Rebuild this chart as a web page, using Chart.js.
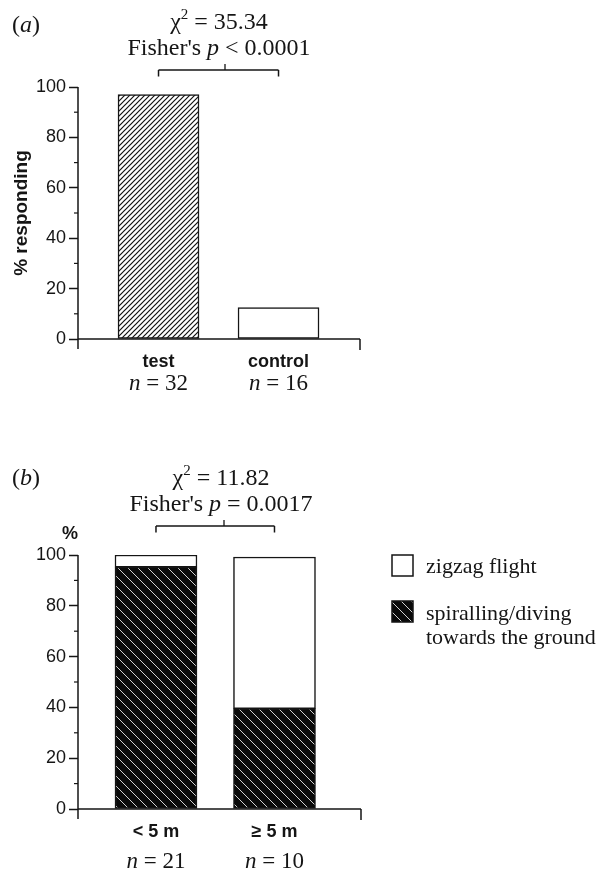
<!DOCTYPE html>
<html><head><meta charset="utf-8">
<script src="https://cdn.jsdelivr.net/npm/chart.js@4.4.1/dist/chart.umd.min.js"></script>
<style>
html,body{margin:0;padding:0;background:#fff;width:598px;height:871px;overflow:hidden}
canvas{position:absolute;left:0}
#ca{top:0}
#cb{top:420px}
</style></head><body>
<canvas id="ca" width="598" height="420"></canvas>
<canvas id="cb" width="598" height="451"></canvas>
<script>
// ---------- data: panel (a) ----------
const categoriesA = ['test', 'control'];
const respondingA = [97, 12.5];
const sampleSizeA = [32, 16];
const chiA = '35.34';
const fisherA = ['<', '0.0001'];
// ---------- data: panel (b) ----------
const categoriesB = ['< 5 m', '\u2265 5 m'];
const spirallingB = [95.2, 39.5];
const zigzagB = [4.8, 59.7];
const sampleSizeB = [21, 10];
const chiB = '11.82';
const fisherB = ['=', '0.0017'];
const legendZigzag = ['zigzag flight'];
const legendSpiral = ['spiralling/diving', 'towards the ground'];
// ---------- shared ----------
const yMajorStep = 20;
const yMinorValues = [10, 30, 50, 70, 90];

const SANS = '"Liberation Sans", Arial, Helvetica, sans-serif';
const SERIF = '"Liberation Serif", "Times New Roman", serif';
const INK = '#151515';

function hatchA(ctx) {
  const c = document.createElement('canvas'); c.width = c.height = 5;
  const g = c.getContext('2d');
  g.fillStyle = '#fff'; g.fillRect(0, 0, 5, 5);
  g.strokeStyle = '#111'; g.lineWidth = 1.2; g.beginPath();
  g.moveTo(0, 5); g.lineTo(5, 0); g.moveTo(-1, 1); g.lineTo(1, -1); g.moveTo(4, 6); g.lineTo(6, 4);
  g.stroke();
  return ctx.createPattern(c, 'repeat');
}
function hatchB(ctx) {
  const c = document.createElement('canvas'); c.width = c.height = 10;
  const g = c.getContext('2d');
  g.fillStyle = '#0a0a0a'; g.fillRect(0, 0, 10, 10);
  g.strokeStyle = '#d0d0d0'; g.lineWidth = 1; g.beginPath();
  g.moveTo(0, 0); g.lineTo(10, 10); g.moveTo(-1, 9); g.lineTo(1, 11); g.moveTo(9, -1); g.lineTo(11, 1);
  g.stroke();
  return ctx.createPattern(c, 'repeat');
}

function drawRuns(ctx, runs, x, baseline, align) {
  let w = 0;
  runs.forEach(r => { ctx.font = r.font; r.w = ctx.measureText(r.t).width; w += r.w; });
  let cx = align === 'center' ? x - w / 2 : (align === 'right' ? x - w : x);
  ctx.textAlign = 'left'; ctx.textBaseline = 'alphabetic'; ctx.fillStyle = INK;
  runs.forEach(r => { ctx.font = r.font; ctx.fillText(r.t, cx, baseline + (r.dy || 0)); cx += r.w; });
}
const R = s => s + 'px ' + SERIF;
const I = s => 'italic ' + s + 'px ' + SERIF;

function line(ctx, x1, y1, x2, y2, w) {
  ctx.beginPath(); ctx.moveTo(x1, y1); ctx.lineTo(x2, y2);
  ctx.lineWidth = w || 1.5; ctx.strokeStyle = INK; ctx.stroke();
}

function annotPlugin(cfg) {
  return {
    id: 'annot' + cfg.letter,
    afterDraw(chart) {
      const ctx = chart.ctx, a = chart.chartArea;
      const xs = chart.scales.x, ys = chart.scales.y;
      ctx.save();
      // axes
      line(ctx, a.left, ys.getPixelForValue(100), a.left, a.bottom + cfg.axisExt, 1.5);
      line(ctx, a.left, a.bottom, a.right, a.bottom, 1.5);
      line(ctx, a.right, a.bottom, a.right, a.bottom + cfg.axisExt + 1, 1.5);
      yMinorValues.forEach(v => {
        const y = ys.getPixelForValue(v);
        line(ctx, a.left - 4, y, a.left, y, 1.2);
      });
      // panel letter
      drawRuns(ctx, [{t: '(', font: R(24)}, {t: cfg.letter, font: I(24)}, {t: ')', font: R(24)}], 12, cfg.letterBase, 'left');
      // statistics
      drawRuns(ctx, [{t: '\u03c7', font: R(24)}, {t: '2', font: R(15), dy: -10}, {t: ' = ' + cfg.chi, font: R(24)}], cfg.textX, cfg.chiBase, 'center');
      drawRuns(ctx, [{t: "Fisher's ", font: R(24)}, {t: 'p', font: I(24)}, {t: ' ' + cfg.fisher[0] + ' ' + cfg.fisher[1], font: R(24)}], cfg.textX, cfg.fisherBase, 'center');
      // bracket
      const b1 = xs.getPixelForValue(1), b2 = xs.getPixelForValue(2);
      line(ctx, b1, cfg.brY, b2, cfg.brY, 1.5);
      line(ctx, b1, cfg.brY, b1, cfg.brY + 6.5, 1.5);
      line(ctx, b2, cfg.brY, b2, cfg.brY + 6.5, 1.5);
      line(ctx, cfg.brTick, cfg.brY, cfg.brTick, cfg.brY - 6, 1.3);
      // sample sizes
      cfg.n.forEach((n, i) => {
        drawRuns(ctx, [{t: 'n', font: I(23)}, {t: ' = ' + n, font: R(23)}], xs.getPixelForValue(i + 1), cfg.nBase, 'center');
      });
      if (cfg.extra) cfg.extra(ctx, chart);
      ctx.restore();
    }
  };
}

function yScale(extra) {
  return Object.assign({
    type: 'linear', min: 0, max: 100,
    ticks: {
      stepSize: 10, padding: 3, color: INK,
      font: {family: SANS, size: 18},
      callback: v => (v % yMajorStep === 0 ? String(v) : '')
    },
    grid: {
      drawOnChartArea: false, tickLength: 9, tickWidth: 1.5,
      tickColor: c => (c.tick && c.tick.value % yMajorStep === 0 ? INK : 'rgba(0,0,0,0)')
    },
    border: {display: false},
    afterFit: s => { s.width = 78; }
  }, extra || {});
}
function xScale(cats, min, max, height, stacked) {
  return {
    type: 'linear', min: min, max: max, stacked: stacked, offset: false, bounds: 'data', grace: 0,
    afterBuildTicks: s => { s.ticks = cats.map((c, i) => ({value: i + 1})); },
    ticks: {autoSkip: false, padding: 12, color: INK, font: {family: SANS, size: 18, weight: 'bold'},
      callback: v => cats[v - 1]},
    grid: {display: false, drawTicks: false, offset: false},
    border: {display: false},
    afterFit: s => { s.height = height; }
  };
}

const ctxA = document.getElementById('ca').getContext('2d');
const ctxB = document.getElementById('cb').getContext('2d');
const patA = hatchA(ctxA);
const patB = hatchB(ctxB);

new Chart(ctxA, {
  type: 'bar',
  data: {
    datasets: [{
      label: '% responding',
      data: categoriesA.map((c, i) => ({x: i + 1, y: respondingA[i]})),
      backgroundColor: [patA, '#ffffff'],
      borderColor: INK, borderWidth: 1.5, borderSkipped: false,
      barThickness: 81
    }]
  },
  options: {
    responsive: false, animation: false, devicePixelRatio: 1,
    layout: {padding: {top: 87, right: 238, left: 0, bottom: 0}},
    plugins: {legend: {display: false}, tooltip: {enabled: false}},
    scales: {
      x: xScale(categoriesA, 0.329, 2.679, 81, false),
      y: yScale({title: {display: true, text: '% responding', color: INK,
        font: {family: SANS, size: 19, weight: 'bold'}, padding: {top: 10, bottom: 0}}})
    }
  },
  plugins: [annotPlugin({letter: 'a', letterBase: 32, chi: chiA, fisher: fisherA, textX: 219,
    chiBase: 29, fisherBase: 55, brY: 70, brTick: 225, n: sampleSizeA, nBase: 390, axisExt: 10})]
});

new Chart(ctxB, {
  type: 'bar',
  data: {
    datasets: [{
      label: legendSpiral.join(' '),
      data: categoriesB.map((c, i) => ({x: i + 1, y: spirallingB[i]})),
      backgroundColor: patB, borderColor: INK, borderWidth: 1.5, borderSkipped: false, barThickness: 82
    }, {
      label: legendZigzag.join(' '),
      data: categoriesB.map((c, i) => ({x: i + 1, y: zigzagB[i]})),
      backgroundColor: '#ffffff', borderColor: INK, borderWidth: 1.5, borderSkipped: false, barThickness: 82
    }]
  },
  options: {
    responsive: false, animation: false, devicePixelRatio: 1,
    layout: {padding: {top: 135, right: 237, left: 0, bottom: 0}},
    plugins: {legend: {display: false}, tooltip: {enabled: false}},
    scales: {
      x: xScale(categoriesB, 0.342, 2.730, 62, true),
      y: yScale({stacked: true})
    }
  },
  plugins: [annotPlugin({letter: 'b', letterBase: 65, chi: chiB, fisher: fisherB, textX: 221,
    chiBase: 65, fisherBase: 91, brY: 106, brTick: 224, n: sampleSizeB, nBase: 448, axisExt: 10,
    extra: (ctx, chart) => {
      // "%" axis label
      ctx.font = 'bold 18px ' + SANS; ctx.fillStyle = INK; ctx.textAlign = 'right'; ctx.textBaseline = 'alphabetic';
      ctx.fillText('%', 78, 119);
      // legend
      const ds = chart.data.datasets;
      const items = [
        {fill: ds[1].backgroundColor, lines: legendZigzag, top: 135, base: 153},
        {fill: ds[0].backgroundColor, lines: legendSpiral, top: 181, base: 200}
      ];
      items.forEach(it => {
        ctx.fillStyle = it.fill; ctx.fillRect(392, it.top, 21, 21);
        ctx.lineWidth = 1.5; ctx.strokeStyle = INK; ctx.strokeRect(392, it.top, 21, 21);
        it.lines.forEach((t, k) => drawRuns(ctx, [{t: t, font: R(22)}], 426, it.base + k * 24, 'left'));
      });
    }})]
});
</script>
</body></html>
